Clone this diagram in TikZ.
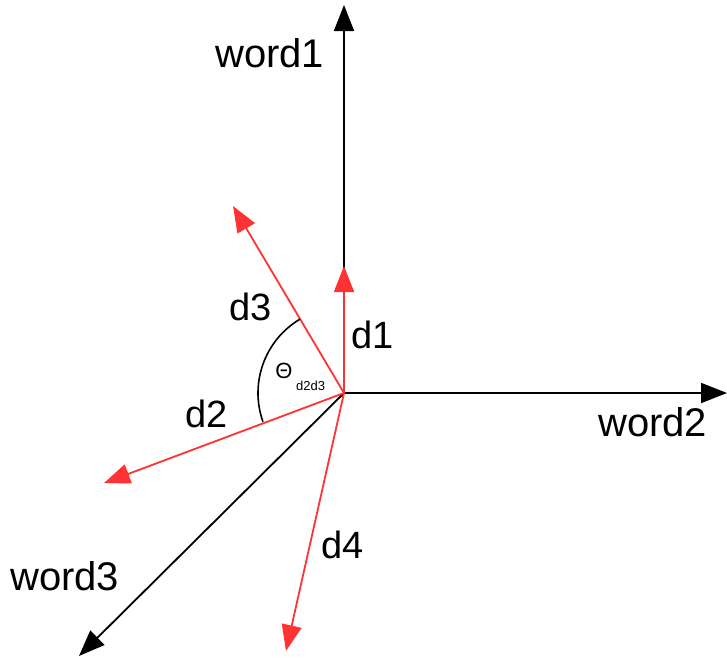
\documentclass[tikz,border=0pt]{standalone}
\usepackage{fontspec}
\setmainfont{Liberation Sans}
\usetikzlibrary{arrows.meta}
\definecolor{docred}{rgb}{1.0,0.2,0.2}

\begin{document}
\begin{tikzpicture}[
  x=1pt, y=-1pt,
  axis/.style={-{Triangle[length=26pt,width=20pt]}, black, line width=1.8pt},
  doc/.style={axis, draw=docred, fill=docred},
  word/.style={anchor=base west, inner sep=0pt, font=\fontsize{40}{46}\selectfont},
  dlbl/.style={anchor=base west, inner sep=0pt, font=\fontsize{38}{44}\selectfont}
]
\useasboundingbox (0,0) rectangle (727,659);

% --- origin and tips ---
\coordinate (o) at (344,393);
\coordinate (w1) at (344,5);
\coordinate (w2) at (727,393);
\coordinate (w3) at (79,656);
\coordinate (t1) at (344,266);
\coordinate (t2) at (104,483);
\coordinate (t3) at (233,206);
\coordinate (t4) at (286,651);

% --- word axes ---
\foreach \w in {w1,w2,w3} { \draw[axis] (o) -- (\w); }

% --- document vectors ---
\foreach \t in {t1,t2,t3,t4} { \draw[doc] (o) -- (\t); }

% angle between d2 and d3
\draw[black, line width=1.6pt] (o) ++(-120.8:86) arc[start angle=-120.8, end angle=-199.5, radius=86];

% labels
\node[word] (lw1) at (215,67) {word1};
\node[word] (lw2) at (598,436) {word2};
\node[word] (lw3) at (10,590) {word3};
\node[dlbl] (ld1) at (351,348) {d1};
\node[dlbl] (ld2) at (185,427) {d2};
\node[dlbl] (ld3) at (229,320) {d3};
\node[dlbl] (ld4) at (321,558) {d4};
\node[inner sep=0pt, font=\fontsize{22}{26}\selectfont] (theta) at (284,371) {Θ};
\node[anchor=base west, inner sep=0pt, font=\fontsize{13}{15}\selectfont] (sub) at (296,390) {d2d3};

\end{tikzpicture}
\end{document}
